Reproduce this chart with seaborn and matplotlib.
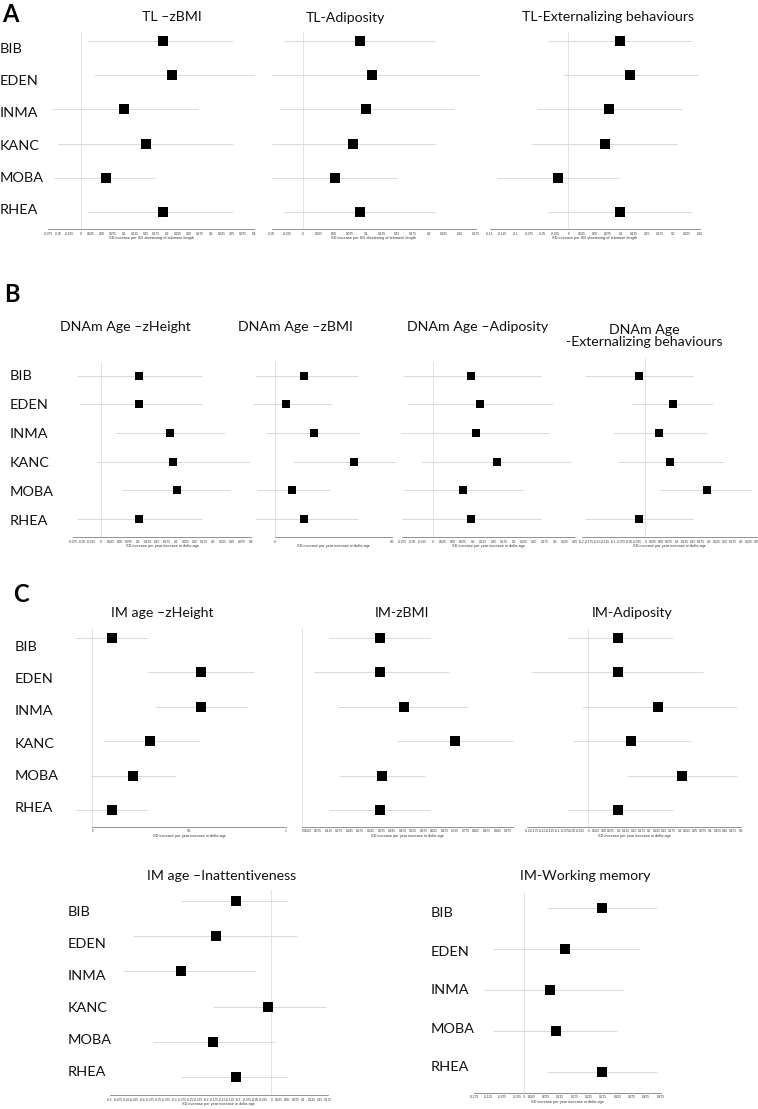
import numpy as np
import pandas as pd
import matplotlib
matplotlib.use("Agg")
import matplotlib.pyplot as plt
import seaborn as sns

W, H = 758, 1109

cohorts6 = ["BIB", "EDEN", "INMA", "KANC", "MOBA", "RHEA"]
cohorts5 = ["BIB", "EDEN", "INMA", "MOBA", "RHEA"]

# ---- A: telomere length ----
tl_zbmi = [0.19, 0.21, 0.10, 0.15, 0.059, 0.19]
tl_zbmi_lo = [0.018, 0.031, -0.065, -0.051, -0.061, 0.018]
tl_zbmi_hi = [0.352, 0.40, 0.27, 0.352, 0.172, 0.352]

tl_adip = [0.090, 0.110, 0.100, 0.080, 0.051, 0.090]
tl_adip_lo = [-0.030, -0.050, -0.039, -0.050, -0.050, -0.030]
tl_adip_hi = [0.210, 0.280, 0.241, 0.210, 0.150, 0.210]

tl_ext = [0.098, 0.118, 0.078, 0.069, -0.020, 0.098]
tl_ext_lo = [-0.039, -0.011, -0.060, -0.070, -0.136, -0.039]
tl_ext_hi = [0.236, 0.246, 0.217, 0.206, 0.097, 0.236]

# ---- B: DNAm age ----
dn_zh = [0.101, 0.101, 0.184, 0.193, 0.203, 0.101]
dn_zh_lo = [-0.063, -0.056, 0.036, -0.011, 0.056, -0.063]
dn_zh_hi = [0.268, 0.268, 0.331, 0.398, 0.344, 0.268]

dn_zbmi = [0.125, 0.046, 0.165, 0.336, 0.074, 0.125]
dn_zbmi_lo = [-0.085, -0.094, -0.038, 0.076, -0.076, -0.085]
dn_zbmi_hi = [0.356, 0.245, 0.365, 0.517, 0.237, 0.356]

dn_adip = [0.095, 0.117, 0.106, 0.159, 0.075, 0.095]
dn_adip_lo = [-0.073, -0.062, -0.077, -0.029, -0.072, -0.075]
dn_adip_hi = [0.266, 0.297, 0.285, 0.340, 0.225, 0.266]

dn_ext = [-0.021, 0.086, 0.042, 0.077, 0.194, -0.021]
dn_ext_lo = [-0.190, -0.041, -0.103, -0.085, 0.043, -0.190]
dn_ext_hi = [0.148, 0.211, 0.194, 0.246, 0.335, 0.148]

# ---- C: immunometabolic age ----
im_zh = [0.10, 0.563, 0.563, 0.30, 0.212, 0.10]
im_zh_lo = [-0.09, 0.29, 0.324, 0.054, -0.008, -0.09]
im_zh_hi = [0.29, 0.835, 0.806, 0.556, 0.432, 0.29]

im_zbmi = [0.369, 0.369, 0.481, 0.723, 0.38, 0.369]
im_zbmi_lo = [0.128, 0.057, 0.171, 0.451, 0.176, 0.128]
im_zbmi_hi = [0.603, 0.696, 0.785, 1.0, 0.582, 0.603]

im_adip = [0.099, 0.099, 0.229, 0.139, 0.306, 0.099]
im_adip_lo = [-0.068, -0.185, -0.019, -0.051, 0.128, -0.068]
im_adip_hi = [0.278, 0.376, 0.488, 0.338, 0.488, 0.278]

im_inatt = [-0.11, -0.17, -0.28, -0.01, -0.18, -0.11]
im_inatt_lo = [-0.279, -0.428, -0.459, -0.18, -0.368, -0.279]
im_inatt_hi = [0.05, 0.08, -0.05, 0.17, 0.012, 0.05]

im_wm = [0.272, 0.142, 0.091, 0.110, 0.272]
im_wm_lo = [0.080, -0.108, -0.139, -0.108, 0.080]
im_wm_hi = [0.463, 0.403, 0.345, 0.322, 0.463]

# tick specs: (start, stop, step)
ticks_a1 = (-0.075, 0.4, 0.025)
ticks_a2 = (-0.05, 0.275, 0.025)
ticks_a3 = (-0.15, 0.25, 0.025)
ticks_b1 = (-0.075, 0.4, 0.025)
ticks_b2 = (0, 0.5, 0.005)
ticks_b3 = (-0.075, 0.35, 0.025)
ticks_b4 = (-0.2, 0.35, 0.025)
ticks_c1 = (0, 1, 0.5)
ticks_c2 = (0, 1, 0.025)
ticks_c3 = (-0.2, 0.5, 0.025)
ticks_c4 = (-0.5, 0.175, 0.025)
ticks_c5 = (-0.175, 0.475, 0.025)

lab_tl = "SD increase per SD shortening of telomere length"
lab_age = "SD increase per year increase in delta age"

sns.set_style("white")
plt.rcParams["font.family"] = ["Lato", "DejaVu Sans"]

fig = plt.figure(figsize=(W / 100, H / 100), dpi=100)

CI_COL = "#d9d9d9"
ZERO_COL = "#e3e3e3"


def tick_list(spec):
    a, b, s = spec
    n = int(round((b - a) / s))
    return [round(a + i * s, 4) for i in range(n + 1)]


def fmt(v):
    return "0" if abs(v) < 1e-9 else f"{v:g}"


def forest(box, rows, est, lo, hi, tspec, xlabel, msize, labmode="all"):
    x0, x1, top, bot = box
    ax = fig.add_axes([x0 / W, 1 - bot / H, (x1 - x0) / W, (bot - top) / H])
    n = len(est)
    r0, r1 = rows
    step = (r1 - r0) / (n - 1)
    df = pd.DataFrame({"est": est, "lo": lo, "hi": hi, "row": np.arange(n)})
    ax.axvline(0, color=ZERO_COL, lw=0.7, zorder=0)
    ax.hlines(df["row"], df["lo"], df["hi"], color=CI_COL, lw=0.7,
              zorder=1, clip_on=False)
    sns.scatterplot(data=df, x="est", y="row", marker="s", s=msize,
                    color="black", linewidth=0, ax=ax, zorder=3,
                    legend=False, clip_on=False)
    t = tick_list(tspec)
    ax.set_xlim(t[0], t[-1])
    ax.set_ylim((bot - r0) / step, (top - r0) / step)
    ax.set_xticks(t)
    if labmode == "all":
        labels = [fmt(v) for v in t]
    elif labmode == "ends":
        labels = [fmt(v) if v in (t[0], t[-1]) else "" for v in t]
    else:  # odd multiples plus zero
        labels = [fmt(v) if (abs(v) < 1e-9 or round(v / 0.025) % 2 == 1) else ""
                  for v in t]
    ax.set_xticklabels(labels, fontfamily="Liberation Sans")
    ax.set_yticks([])
    ax.set_ylabel("")
    ax.set_xlabel(xlabel, fontsize=2.8, labelpad=0.6,
                  fontfamily="Liberation Sans", color="#333333")
    for sp in ("top", "right", "left"):
        ax.spines[sp].set_visible(False)
    ax.spines["bottom"].set_color("#666666")
    ax.spines["bottom"].set_linewidth(0.5)
    ax.tick_params(axis="x", length=2.2, width=0.4, direction="inout",
                   labelsize=2.3, pad=0.8, colors="#555555", labelcolor="#333333")
    ax.patch.set_alpha(0)
    return ax


def row_labels(x, rows, names, size=10.4):
    ys = np.linspace(rows[0], rows[1], len(names))
    for nm, y in zip(names, ys):
        fig.text(x / W, 1 - y / H, nm, ha="left", va="center", fontsize=size,
                 color="#111111")


def title(x, y, s, size=10.2):
    fig.text(x / W, 1 - y / H, s, ha="center", va="center", fontsize=size,
             color="#111111", linespacing=1.05)


def letter(x, y, s):
    fig.text(x / W, 1 - y / H, s, ha="left", va="center", fontsize=17,
             fontweight="bold", color="black")


# ---------- Panel A ----------
letter(2, 14, "A")
row_labels(0, (49, 210), cohorts6)
rowsA = (41, 212)
forest((48, 254, 32, 229), rowsA, tl_zbmi, tl_zbmi_lo, tl_zbmi_hi, ticks_a1, lab_tl, 48)
forest((271.7, 475.7, 32, 229), rowsA, tl_adip, tl_adip_lo, tl_adip_hi, ticks_a2, lab_tl, 48)
forest((489.6, 699.6, 32, 229), rowsA, tl_ext, tl_ext_lo, tl_ext_hi, ticks_a3, lab_tl, 48)
title(172, 17, "TL \u2013zBMI")
title(345, 18, "TL-Adiposity")
title(608, 17, "TL-Externalizing behaviours")

# ---------- Panel B ----------
letter(4, 295, "B")
row_labels(10, (376, 521), cohorts6)
rowsB = (375.7, 519)
forest((73, 251, 362, 537), rowsB, dn_zh, dn_zh_lo, dn_zh_hi, ticks_b1, lab_age, 28)
forest((275, 392, 362, 537), rowsB, dn_zbmi, dn_zbmi_lo, dn_zbmi_hi, ticks_b2, lab_age, 28, "ends")
forest((402, 575, 362, 537), rowsB, dn_adip, dn_adip_lo, dn_adip_hi, ticks_b3, lab_age, 28)
forest((581.6, 757, 358, 537), rowsB, dn_ext, dn_ext_lo, dn_ext_hi, ticks_b4, lab_age, 28)
title(125, 327, "DNAm Age \u2013zHeight")
title(295, 327, "DNAm Age \u2013zBMI")
title(478, 327, "DNAm Age \u2013Adiposity")
title(644, 336, "DNAm Age\n-Externalizing behaviours")

# ---------- Panel C ----------
letter(13, 594, "C")
row_labels(15, (647, 808), cohorts6)
rowsC = (638, 810)
forest((92.3, 286, 628, 826.7), rowsC, im_zh, im_zh_lo, im_zh_hi, ticks_c1, lab_age, 42)
forest((302.3, 513.3, 628, 826.7), rowsC, im_zbmi, im_zbmi_lo, im_zbmi_hi, ticks_c2, lab_age, 42, "odd")
forest((527.3, 740.7, 628, 826.7), rowsC, im_adip, im_adip_lo, im_adip_hi, ticks_c3, lab_age, 42)
title(162, 613, "IM age \u2013zHeight")
title(402, 613, "IM-zBMI")
title(632, 613, "IM-Adiposity")

row_labels(68, (911.7, 1071.7), cohorts6)
forest((110, 327.7, 890, 1095), (900.7, 1077.3), im_inatt, im_inatt_lo, im_inatt_hi, ticks_c4, lab_age, 42)
title(222, 876, "IM age \u2013Inattentiveness")

row_labels(431, (913, 1067.3), cohorts5)
forest((474, 660.6, 892, 1092.7), (908, 1072.3), im_wm, im_wm_lo, im_wm_hi, ticks_c5, lab_age, 48, "odd")
title(585, 876, "IM-Working memory")

fig.savefig("out.png", dpi=100)
